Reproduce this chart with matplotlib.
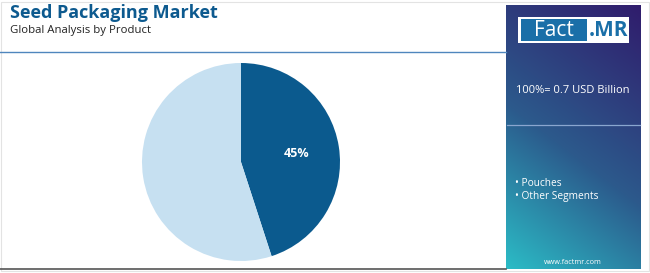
import matplotlib
matplotlib.use("Agg")
import matplotlib.pyplot as plt
import numpy as np
from matplotlib.patches import Rectangle

categories = ["Pouches", "Other Segments"]
values = [45, 55]
labels = ["45%", ""]
colors = ["#0b5a8e", "#c6e0f1"]

W, H = 650, 273
fig = plt.figure(figsize=(6.5, 2.73), dpi=100)
fig.patch.set_facecolor("white")

def fx(x): return x / W
def fy(y): return 1 - y / H

# outer light frame
fig.add_artist(Rectangle((fx(1), fy(271)), fx(648), 269 / H, transform=fig.transFigure,
                         fill=False, edgecolor="#e3e3e3", lw=0.8))

# title
fig.text(fx(10), fy(13), "Seed Packaging Market", fontsize=13, fontweight="bold",
         color="#0d5a8f", family="Open Sans", va="center", ha="left")
fig.text(fx(10), fy(31), "Global Analysis by Product", fontsize=8.2,
         color="#222222", family="Open Sans", va="center", ha="left")

# blue divider
fig.add_artist(plt.Line2D([fx(0), fx(506)], [fy(52), fy(52)], transform=fig.transFigure,
                          color="#4f86bd", lw=1.0))
# bottom line
fig.add_artist(plt.Line2D([fx(0), fx(506)], [fy(268.5), fy(268.5)], transform=fig.transFigure,
                          color="#555555", lw=1.2))

# gradient panel
px0, px1, py0, py1 = 506, 641, 5, 269
gax = fig.add_axes([fx(px0), fy(py1), fx(px1 - px0), (py1 - py0) / H])
gax.set_axis_off()
n = 200
xx, yy = np.meshgrid(np.linspace(0, 1, n), np.linspace(0, 1, n))
t = np.clip(((1 - xx) * 0.35 + yy * 0.9) / 1.25, 0, 1)
c0 = np.array([0x30, 0x1c, 0x6c]) / 255
c1 = np.array([0x2c, 0x5a, 0x8c]) / 255
c2 = np.array([0x2b, 0xbc, 0xc6]) / 255
img = np.zeros((n, n, 3))
for k in range(3):
    img[..., k] = np.where(t < 0.55, c0[k] + (c1[k] - c0[k]) * (t / 0.55),
                           c1[k] + (c2[k] - c1[k]) * ((t - 0.55) / 0.45))
gax.imshow(img, aspect="auto", extent=[0, 1, 1, 0], origin="upper")
gax.set_xlim(0, 1); gax.set_ylim(1, 0)

# logo
fig.add_artist(Rectangle((fx(518), fy(43)), fx(111), 26 / H, transform=fig.transFigure,
                         facecolor="white", edgecolor="none"))
fig.add_artist(Rectangle((fx(521), fy(41)), fx(66), 22 / H, transform=fig.transFigure,
                         facecolor="#1a6fa8", edgecolor="none"))
fig.text(fx(554), fy(30), "Fact", fontsize=15, color="white", family="Open Sans",
         ha="center", va="center")
fig.text(fx(608), fy(30), ".MR", fontsize=15, color="#1a6fa8", family="Open Sans",
         fontweight="bold", ha="center", va="center")

fig.text(fx(516), fy(91), "100%= 0.7 USD Billion", fontsize=8, color="white",
         family="Open Sans", ha="left", va="center")
fig.add_artist(plt.Line2D([fx(507), fx(640)], [fy(125), fy(125)], transform=fig.transFigure,
                          color="#8aa6cf", lw=0.9))
for i, c in enumerate(categories):
    fig.text(fx(515), fy(183 + i * 14), "• " + c, fontsize=7.3, color="white",
             family="Open Sans", ha="left", va="center")
fig.text(fx(573), fy(262), "www.factmr.com", fontsize=5.2, color="white",
         family="Open Sans", ha="center", va="center")

# pie
r = 99
cx, cy = 241, 162
ax = fig.add_axes([fx(cx - r), fy(cy + r), fx(2 * r), 2 * r / H])
wedges, texts = ax.pie(values, colors=colors, startangle=90, counterclock=False,
                       labels=labels, labeldistance=0.57,
                       wedgeprops=dict(linewidth=0),
                       textprops=dict(color="white", fontsize=9, fontweight="bold",
                                      family="Open Sans"))
for tx in texts:
    tx.set_ha("center"); tx.set_va("center")
ax.set_xlim(-1, 1); ax.set_ylim(-1, 1)
ax.set_aspect("equal")

fig.savefig("out.png", dpi=100, facecolor="white")
